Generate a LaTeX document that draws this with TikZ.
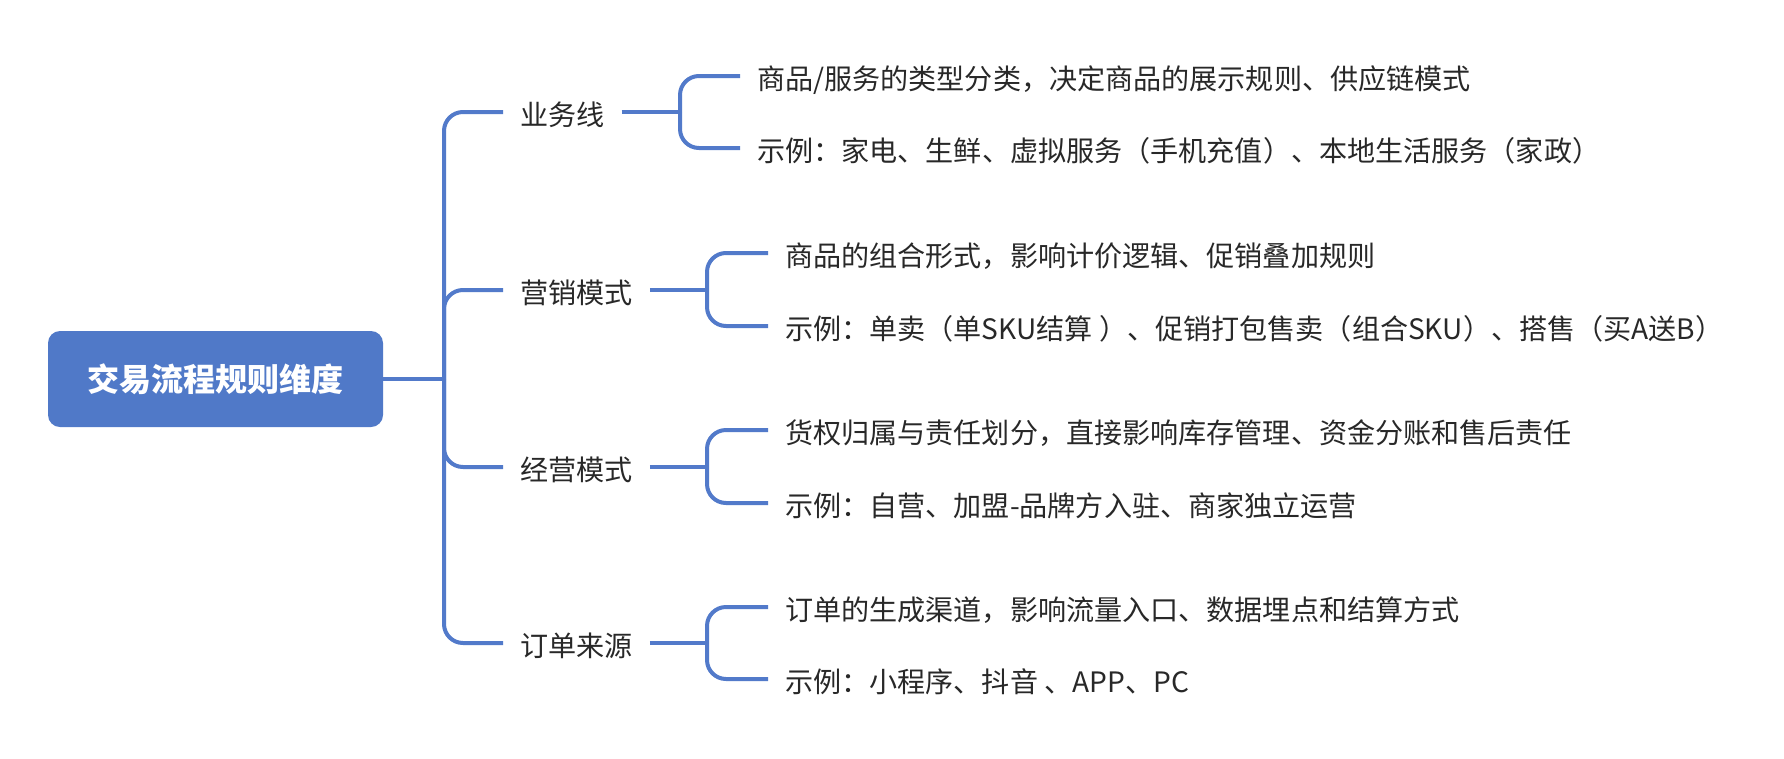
\documentclass[tikz,border=0pt]{standalone}
\usepackage{fontspec}
\setmainfont{Noto Sans CJK SC}
\usetikzlibrary{positioning}
\definecolor{linec}{RGB}{82,122,202}
\definecolor{rootc}{RGB}{80,121,200}
\definecolor{txtc}{RGB}{40,40,40}
\begin{document}
\begin{tikzpicture}[x=1pt,y=-1pt,
  conn/.style={draw=linec,line width=4pt,rounded corners=19pt},
  rootbox/.style={fill=rootc,rounded corners=12pt,minimum width=335pt,minimum height=96pt,inner sep=0pt,text=white,font=\fontsize{32}{36}\selectfont\bfseries},
  branchlbl/.style={anchor=west,inner xsep=17pt,inner ysep=0pt,text height=26pt,text depth=0pt,text=txtc,font=\fontsize{28.1}{32}\selectfont},
  leaflbl/.style={anchor=west,inner xsep=17pt,inner ysep=0pt,text height=27pt,text depth=0pt,text=txtc,font=\fontsize{28.1}{32}\selectfont}]
\useasboundingbox (0,0) rectangle (1784,758);
\node[rootbox] (root) at (215.5,379) {交易流程规则维度};
\coordinate (t) at (444,379);
% branches
\node[branchlbl] (b1) at (503,112) {业务线};
\node[branchlbl] (b2) at (503,290) {营销模式};
\node[branchlbl] (b3) at (503,467) {经营模式};
\node[branchlbl] (b4) at (503,643) {订单来源};
% sub trunks
\coordinate (s1) at (680,112);
\coordinate (s2) at (707,290);
\coordinate (s3) at (707,467);
\coordinate (s4) at (707,643);
% leaves
\node[leaflbl] (l11) at (740,76) {商品/服务的类型分类，决定商品的展示规则、供应链模式};
\node[leaflbl] (l12) at (740,148) {示例：家电、生鲜、虚拟服务（手机充值）、本地生活服务（家政）};
\node[leaflbl] (l21) at (768,253) {商品的组合形式，影响计价逻辑、促销叠加规则};
\node[leaflbl] (l22) at (768,326) {示例：单卖（单SKU结算 ）、促销打包售卖（组合SKU）、搭售（买A送B）};
\node[leaflbl] (l31) at (768,430) {货权归属与责任划分，直接影响库存管理、资金分账和售后责任};
\node[leaflbl] (l32) at (768,503) {示例：自营、加盟-品牌方入驻、商家独立运营};
\node[leaflbl] (l41) at (768,607) {订单的生成渠道，影响流量入口、数据埋点和结算方式};
\node[leaflbl] (l42) at (768,679) {示例：小程序、抖音 、APP、PC};
% connectors
\draw[conn] (root.east) -- (t);
\draw[conn] (t) |- (b1.west);
\draw[conn] (t) |- (b2.west);
\draw[conn] (t) |- (b3.west);
\draw[conn] (t) |- (b4.west);
\draw[conn] (b1.east) -- (s1);
\draw[conn] (s1) |- (l11.west);
\draw[conn] (s1) |- (l12.west);
\draw[conn] (b2.east) -- (s2);
\draw[conn] (s2) |- (l21.west);
\draw[conn] (s2) |- (l22.west);
\draw[conn] (b3.east) -- (s3);
\draw[conn] (s3) |- (l31.west);
\draw[conn] (s3) |- (l32.west);
\draw[conn] (b4.east) -- (s4);
\draw[conn] (s4) |- (l41.west);
\draw[conn] (s4) |- (l42.west);
\end{tikzpicture}
\end{document}
